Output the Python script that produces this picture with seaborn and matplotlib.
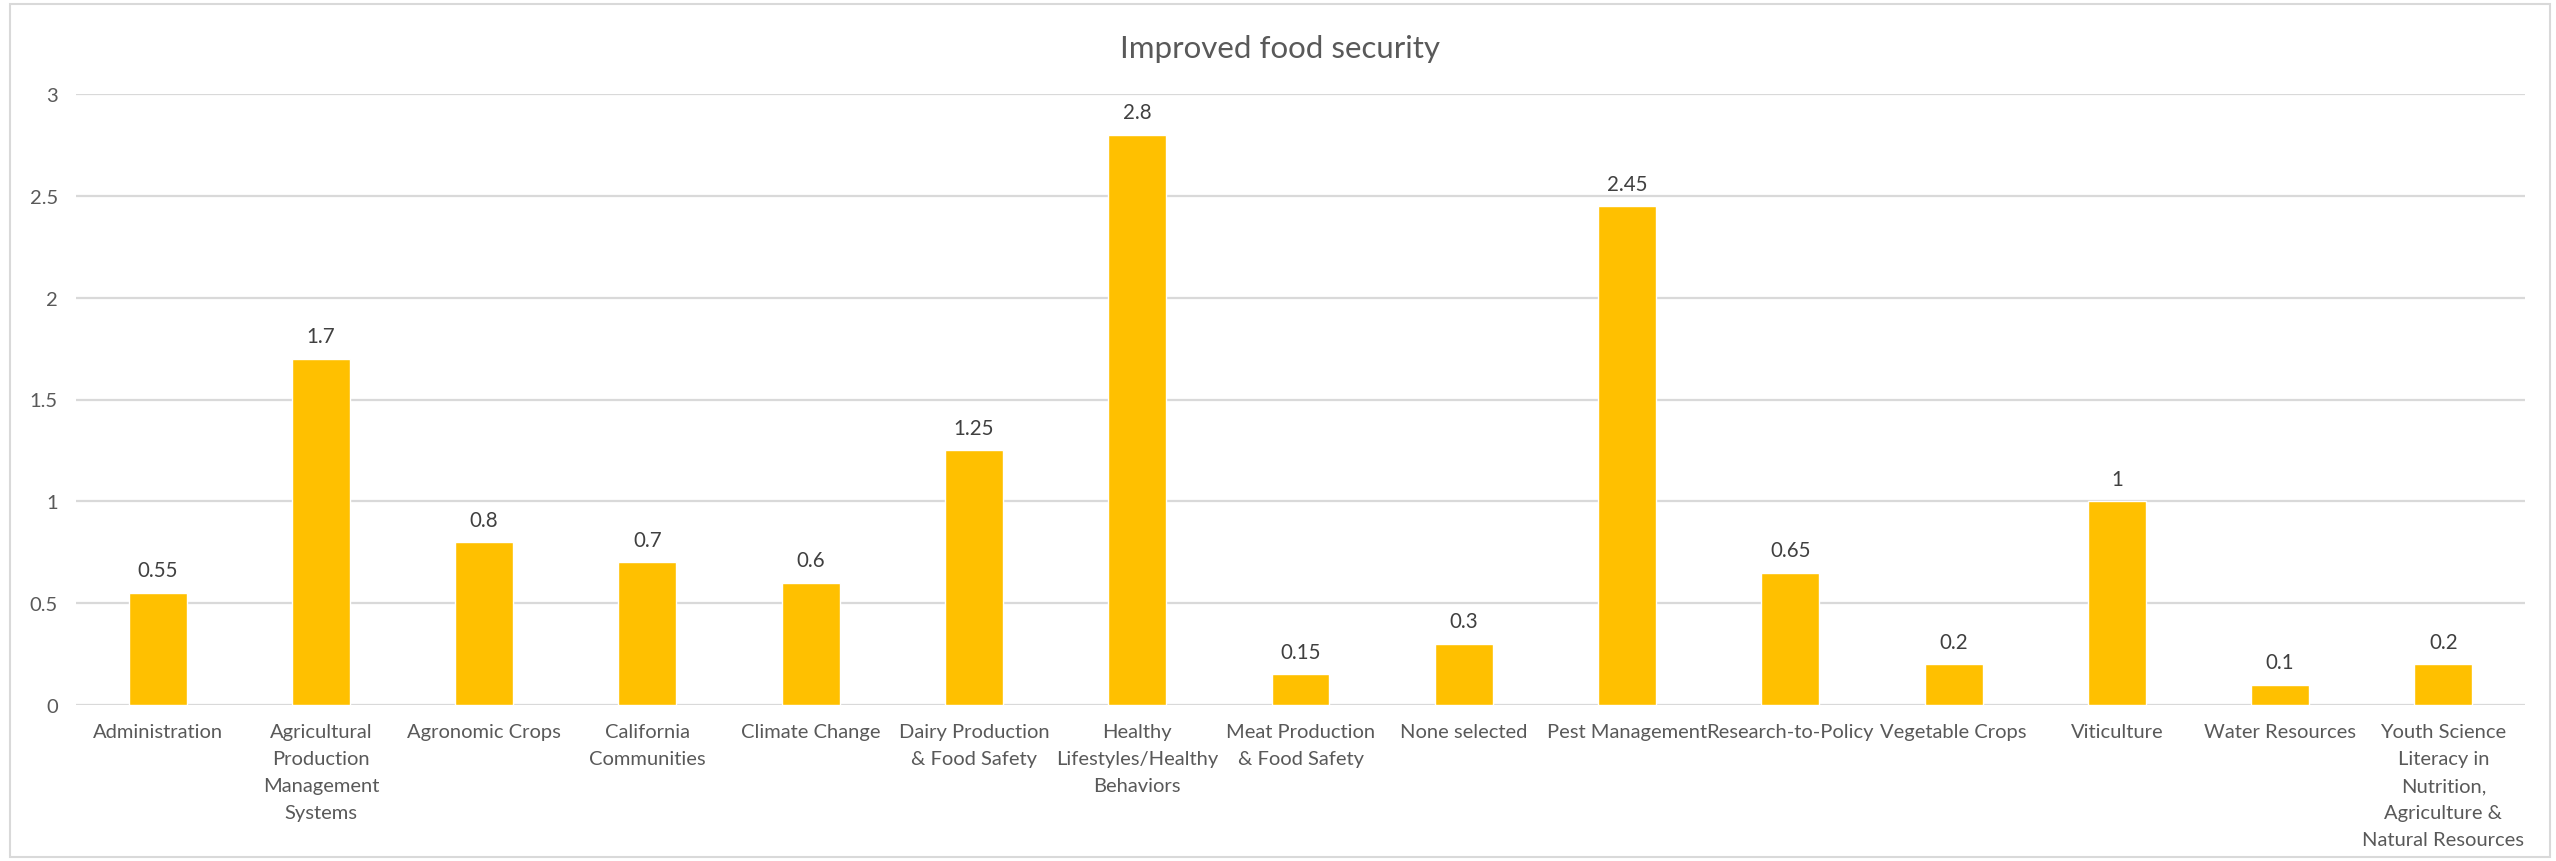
import numpy as np
import matplotlib
matplotlib.use("Agg")
import matplotlib.pyplot as plt
from matplotlib.patches import Rectangle
import pandas as pd
import seaborn as sns

# program areas and their scores for "Improved food security"
areas = ["Administration",
         "Agricultural\nProduction\nManagement\nSystems",
         "Agronomic Crops",
         "California\nCommunities",
         "Climate Change",
         "Dairy Production\n& Food Safety",
         "Healthy\nLifestyles/Healthy\nBehaviors",
         "Meat Production\n& Food Safety",
         "None selected",
         "Pest Management",
         "Research-to-Policy",
         "Vegetable Crops",
         "Viticulture",
         "Water Resources",
         "Youth Science\nLiteracy in\nNutrition,\nAgriculture &\nNatural Resources"]
scores = [0.55, 1.7, 0.8, 0.7, 0.6, 1.25, 2.8, 0.15, 0.3, 2.45, 0.65, 0.2, 1, 0.1, 0.2]
y_ticks = [0, 0.5, 1, 1.5, 2, 2.5, 3]
title = "Improved food security"

sns.set_theme(style="white")
plt.rcParams['font.family'] = ['Lato', 'DejaVu Sans']

df = pd.DataFrame({"area": areas, "score": scores})

W, H = 2556, 862
fig = plt.figure(figsize=(W / 100, H / 100), dpi=100)
ax = fig.add_axes([76 / W, 1 - 706 / H, (2525 - 76) / W, (706 - 95) / H])

sns.barplot(data=df, x="area", y="score", color="#FFC000", saturation=1,
            width=0.355, ax=ax)

ax.set_xlim(-0.5, len(areas) - 0.5)
ax.set_ylim(0, 3)
ax.set_yticks(y_ticks)
ax.set_yticklabels([f"{t:g}" for t in y_ticks])
ax.set_xlabel("")
ax.set_ylabel("")
ax.yaxis.grid(True, color="#D9D9D9", lw=1.6)
ax.set_axisbelow(True)
sns.despine(ax=ax, left=True, bottom=True)
ax.tick_params(axis="both", length=0, colors="#595959", labelsize=14.5)
ax.tick_params(axis="y", pad=13)
ax.tick_params(axis="x", pad=13)
for lbl in ax.get_xticklabels():
    lbl.set_linespacing(1.72)

ax.bar_label(ax.containers[0], labels=[f"{v:g}" for v in scores],
             padding=9, fontsize=14.8, color="#404040")

fig.text(1280 / W, 1 - 49 / H, title, ha="center", va="center",
         fontsize=22.5, color="#595959")

# chart area border
fig.add_artist(Rectangle((10 / W, 4 / H), 2540 / W, 853 / H, transform=fig.transFigure,
                         fill=False, edgecolor="#D9D9D9", lw=1.5))

fig.savefig("out.png", dpi=100)
